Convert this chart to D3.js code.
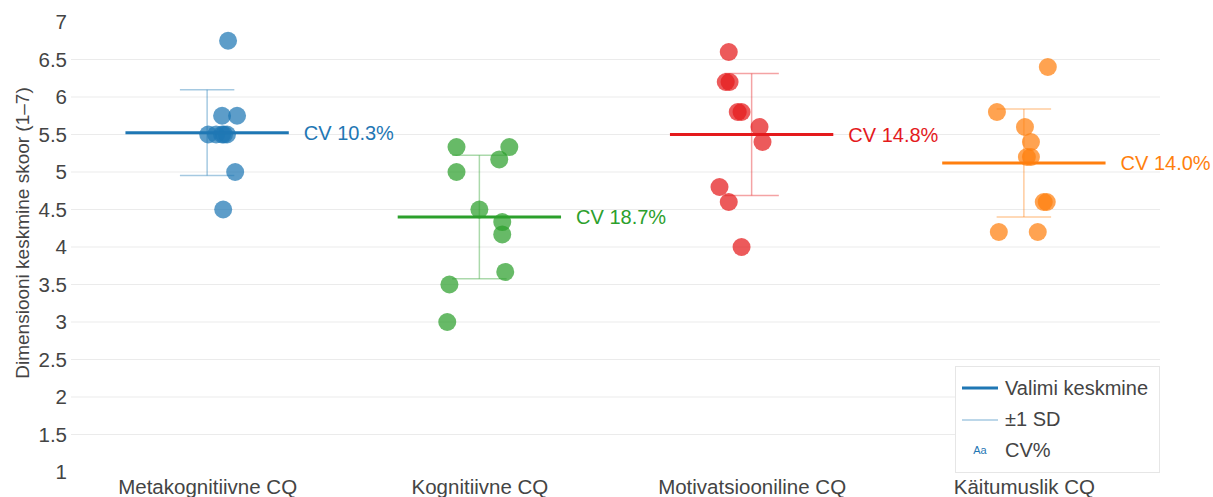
<!DOCTYPE html>
<html>
<head>
<meta charset="utf-8">
<script src="https://cdn.jsdelivr.net/npm/d3@7"></script>
<style>
  body { margin: 0; background: #fff; }
  svg { font-family: "Liberation Sans", Arial, Helvetica, sans-serif; }
</style>
</head>
<body>
<svg id="chart" width="1213" height="497"></svg>
<script>
var width = 1213, height = 497;

var categories = ['Metakognitiivne CQ', 'Kognitiivne CQ', 'Motivatsiooniline CQ', 'Käitumuslik CQ'];
var colors = ['#1f77b4', '#2ca02c', '#e41a1c', '#ff7f0e'];

// individual scores per dimension
var metaScores = [6.75, 5.75, 5.75, 5.5, 5.5, 5.5, 5.5, 5.5, 5.0, 4.5];
var kognScores = [5.333, 5.333, 5.167, 5.0, 4.5, 4.333, 4.167, 3.667, 3.5, 3.0];
var motiScores = [6.6, 6.2, 6.2, 5.8, 5.8, 5.6, 5.4, 4.8, 4.6, 4.0];
var kaitScores = [6.4, 5.8, 5.6, 5.4, 5.2, 5.2, 4.6, 4.6, 4.2, 4.2];

// horizontal jitter of each point, in category units
var metaJitter = [0.077, 0.055, 0.11, 0.004, 0.033, 0.055, 0.062, 0.073, 0.103, 0.059];
var kognJitter = [-0.084, 0.11, 0.073, -0.084, 0, 0.084, 0.084, 0.095, -0.11, -0.118];
var motiJitter = [-0.084, -0.095, -0.081, -0.051, -0.037, 0.029, 0.04, -0.118, -0.084, -0.037];
var kaitJitter = [0.088, -0.099, 0.004, 0.026, 0.011, 0.026, 0.073, 0.084, -0.092, 0.051];

var means = [5.525, 4.4, 5.5, 5.12];
var sds = [0.571, 0.822, 0.812, 0.719];
var cvLabels = ['CV 10.3%', 'CV 18.7%', 'CV 14.8%', 'CV 14.0%'];

var yTicks = [1, 1.5, 2, 2.5, 3, 3.5, 4, 4.5, 5, 5.5, 6, 6.5, 7];
var yTitle = 'Dimensiooni keskmine skoor (1–7)';
var legendLabels = ['Valimi keskmine', '±1 SD', 'CV%'];

var scores = [metaScores, kognScores, motiScores, kaitScores];
var jitters = [metaJitter, kognJitter, motiJitter, kaitJitter];

var points = [];
scores.forEach(function (arr, g) {
    arr.forEach(function (v, i) {
        points.push({ group: g, value: v, x: g + jitters[g][i] });
    });
});

var plot = { left: 71, right: 1160, top: 22, bottom: 472 };

var x = d3.scaleLinear().domain([-0.5, 3.5]).range([plot.left, plot.right]);
var y = d3.scaleLinear().domain([1, 7]).range([plot.bottom, plot.top]);

var svg = d3.select('#chart');

// gridlines
svg.append('g')
    .selectAll('line')
    .data(yTicks.filter(function (d) { return d > 1 && d < 7; }))
    .join('line')
    .attr('x1', plot.left)
    .attr('x2', plot.right)
    .attr('y1', function (d) { return y(d); })
    .attr('y2', function (d) { return y(d); })
    .attr('stroke', '#ebebeb')
    .attr('stroke-width', 1);

// y axis
var yAxis = svg.append('g')
    .attr('transform', 'translate(' + plot.left + ',0)')
    .call(d3.axisLeft(y).tickValues(yTicks).tickSize(0).tickPadding(4).tickFormat(d3.format('')));
yAxis.select('.domain').remove();
yAxis.selectAll('text')
    .attr('fill', '#444')
    .style('font-size', '20.5px');

// x axis
var xAxis = svg.append('g')
    .attr('transform', 'translate(0,' + plot.bottom + ')')
    .call(d3.axisBottom(x).tickValues([0, 1, 2, 3]).tickSize(0).tickPadding(7)
        .tickFormat(function (d) { return categories[d]; }));
xAxis.select('.domain').remove();
xAxis.selectAll('text')
    .attr('fill', '#444')
    .style('font-size', '20.5px');

// y title
svg.append('text')
    .attr('transform', 'translate(29,233) rotate(-90)')
    .attr('text-anchor', 'middle')
    .attr('fill', '#444')
    .style('font-size', '19px')
    .text(yTitle);

// error bars (±1 SD)
var eb = svg.append('g')
    .selectAll('g')
    .data(d3.range(categories.length))
    .join('g')
    .attr('stroke', function (g) { return colors[g]; })
    .attr('stroke-opacity', 0.4)
    .attr('stroke-width', 1.5);
eb.append('line')
    .attr('x1', function (g) { return x(g); })
    .attr('x2', function (g) { return x(g); })
    .attr('y1', function (g) { return y(means[g] + sds[g]); })
    .attr('y2', function (g) { return y(means[g] - sds[g]); });
eb.append('line')
    .attr('x1', function (g) { return x(g - 0.1); })
    .attr('x2', function (g) { return x(g + 0.1); })
    .attr('y1', function (g) { return y(means[g] + sds[g]); })
    .attr('y2', function (g) { return y(means[g] + sds[g]); });
eb.append('line')
    .attr('x1', function (g) { return x(g - 0.1); })
    .attr('x2', function (g) { return x(g + 0.1); })
    .attr('y1', function (g) { return y(means[g] - sds[g]); })
    .attr('y2', function (g) { return y(means[g] - sds[g]); });

// points
svg.append('g')
    .selectAll('circle')
    .data(points)
    .join('circle')
    .attr('cx', function (d) { return x(d.x); })
    .attr('cy', function (d) { return y(d.value); })
    .attr('r', 9)
    .attr('fill', function (d) { return colors[d.group]; })
    .attr('fill-opacity', 0.72);

// mean lines
svg.append('g')
    .selectAll('line')
    .data(d3.range(categories.length))
    .join('line')
    .attr('x1', function (g) { return x(g - 0.3); })
    .attr('x2', function (g) { return x(g + 0.3); })
    .attr('y1', function (g) { return y(means[g]); })
    .attr('y2', function (g) { return y(means[g]); })
    .attr('stroke', function (g) { return colors[g]; })
    .attr('stroke-width', 3);

// CV labels
svg.append('g')
    .selectAll('text')
    .data(d3.range(categories.length))
    .join('text')
    .attr('x', function (g) { return x(g + 0.3) + 15; })
    .attr('y', function (g) { return y(means[g]); })
    .attr('dy', '0.35em')
    .attr('fill', function (g) { return colors[g]; })
    .style('font-size', '20px')
    .text(function (g) { return cvLabels[g]; });

// legend
var legend = svg.append('g').attr('transform', 'translate(955,366)');
legend.append('rect')
    .attr('x', 0.5).attr('y', 0.5)
    .attr('width', 204).attr('height', 106)
    .attr('fill', '#fff')
    .attr('stroke', '#e6e6e6');
legend.append('line')
    .attr('x1', 7).attr('x2', 43).attr('y1', 22).attr('y2', 22)
    .attr('stroke', colors[0]).attr('stroke-width', 3);
legend.append('line')
    .attr('x1', 7).attr('x2', 43).attr('y1', 54).attr('y2', 54)
    .attr('stroke', colors[0]).attr('stroke-opacity', 0.4).attr('stroke-width', 1.5);
legend.append('text')
    .attr('x', 25).attr('y', 84).attr('dy', '0.35em')
    .attr('text-anchor', 'middle')
    .attr('fill', colors[0])
    .style('font-size', '11px')
    .text('Aa');
legend.selectAll('text.lab')
    .data(legendLabels)
    .join('text')
    .attr('class', 'lab')
    .attr('x', 50)
    .attr('y', function (d, i) { return 22 + i * 31; })
    .attr('dy', '0.35em')
    .attr('fill', '#444')
    .style('font-size', '20px')
    .text(function (d) { return d; });
</script>
</body>
</html>
